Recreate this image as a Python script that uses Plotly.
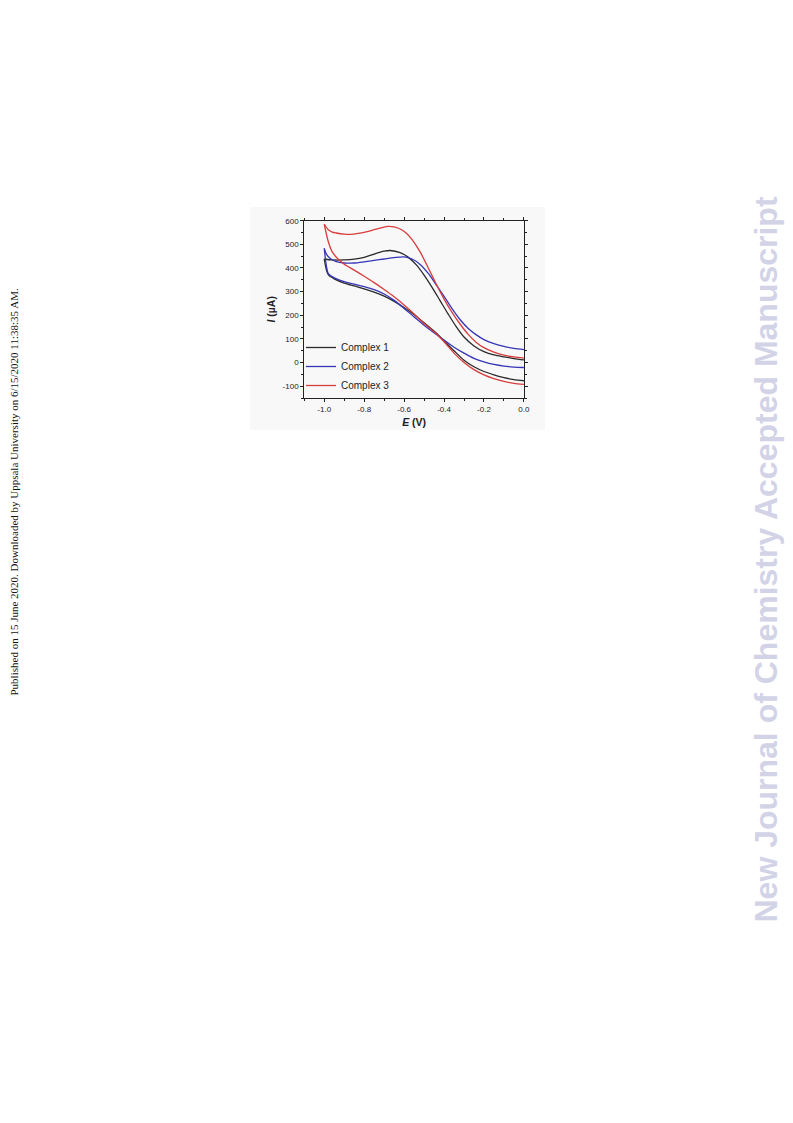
import plotly.graph_objects as go

# ---------------- data ----------------
E1_fwd = [-1.0, -0.96, -0.9, -0.85, -0.8, -0.75, -0.7, -0.67, -0.62, -0.58, -0.54, -0.5,
          -0.46, -0.42, -0.38, -0.34, -0.3, -0.25, -0.2, -0.15, -0.1, -0.05, 0.0]
I1_fwd = [438, 434, 434, 437, 445, 459, 471, 474, 465, 446, 414, 370,
          318, 262, 206, 153, 108, 70, 46, 32, 24, 17, 11]
E1_rev = [0.0, -0.05, -0.1, -0.15, -0.2, -0.25, -0.3, -0.35, -0.4, -0.45, -0.5, -0.55,
          -0.6, -0.65, -0.7, -0.75, -0.8, -0.85, -0.9, -0.95, -0.98, -0.99, -0.995, -1.0]
I1_rev = [-77, -72, -64, -52, -38, -18, 10, 50, 92, 133, 168, 202,
          233, 259, 281, 298, 312, 324, 336, 354, 372, 394, 414, 438]

E2_fwd = [-1.0, -0.99, -0.97, -0.94, -0.9, -0.85, -0.8, -0.75, -0.7, -0.65, -0.6, -0.56,
          -0.52, -0.48, -0.44, -0.4, -0.36, -0.32, -0.28, -0.24, -0.2, -0.15, -0.1, -0.05, 0.0]
I2_fwd = [483, 460, 440, 427, 421, 421, 426, 432, 438, 444, 447, 438,
          415, 378, 330, 280, 228, 182, 145, 118, 97, 80, 68, 60, 55]
E2_rev = [0.0, -0.05, -0.1, -0.15, -0.2, -0.25, -0.3, -0.35, -0.4, -0.45, -0.5, -0.55,
          -0.6, -0.65, -0.7, -0.75, -0.8, -0.85, -0.9, -0.95, -0.98, -0.99, -1.0]
I2_rev = [-21, -19, -15, -8, 3, 18, 40, 65, 95, 126, 158, 193,
          229, 263, 290, 308, 321, 332, 342, 358, 377, 412, 483]

E3_fwd = [-1.0, -0.98, -0.96, -0.94, -0.9, -0.87, -0.83, -0.79, -0.75, -0.71, -0.68, -0.65,
          -0.62, -0.59, -0.56, -0.52, -0.48, -0.44, -0.4, -0.36, -0.32, -0.28, -0.24,
          -0.2, -0.15, -0.1, -0.05, 0.0]
I3_fwd = [585, 562, 552, 548, 543, 542, 546, 553, 562, 571, 576, 574,
          565, 548, 520, 468, 402, 333, 268, 212, 163, 120, 86,
          63, 44, 31, 24, 19]
E3_rev = [0.0, -0.05, -0.1, -0.15, -0.2, -0.25, -0.3, -0.35, -0.4, -0.45, -0.5, -0.55,
          -0.6, -0.65, -0.7, -0.75, -0.8, -0.85, -0.9, -0.93, -0.96, -0.98, -1.0]
I3_rev = [-92, -88, -80, -68, -52, -30, 0, 40, 88, 130, 165, 205,
          243, 278, 309, 338, 365, 391, 416, 437, 468, 512, 585]

names = ["Complex 1", "Complex 2", "Complex 3"]
colors = ["#2a2a2a", "#3535b8", "#d83c3c"]

x_ticks = [-1.0, -0.8, -0.6, -0.4, -0.2, 0.0]
y_ticks = [-100, 0, 100, 200, 300, 400, 500, 600]

# ---------------- figure ----------------
fig = go.Figure()
series = [(E1_fwd, I1_fwd, E1_rev, I1_rev),
          (E2_fwd, I2_fwd, E2_rev, I2_rev),
          (E3_fwd, I3_fwd, E3_rev, I3_rev)]
for k, (ef, i_f, er, i_r) in enumerate(series):
    fig.add_trace(go.Scatter(x=ef, y=i_f, mode="lines", name=names[k], legendgroup=names[k],
                             line=dict(color=colors[k], width=1.3, shape="spline", smoothing=0.8),
                             showlegend=True))
    fig.add_trace(go.Scatter(x=er, y=i_r, mode="lines", name=names[k], legendgroup=names[k],
                             line=dict(color=colors[k], width=1.3, shape="spline", smoothing=0.8),
                             showlegend=False))

W, H = 793, 1123
x0, x1 = 304.3, 524.0
yt, yb = 220.7, 398.0

axis_common = dict(
    showline=True, linecolor="#222", linewidth=1.2, mirror="allticks",
    ticks="outside", ticklen=3, tickwidth=1, tickcolor="#222",
    showgrid=False, zeroline=False,
    tickfont=dict(family="Liberation Sans, Arial", size=8, color="#222"),
)

fig.update_layout(
    width=W, height=H,
    margin=dict(l=0, r=0, t=0, b=0),
    paper_bgcolor="white", plot_bgcolor="rgba(0,0,0,0)",
    showlegend=True,
    legend=dict(x=301 / W, y=1 - 333 / H, xanchor="left", yanchor="top",
                bgcolor="rgba(0,0,0,0)", borderwidth=0,
                font=dict(family="Liberation Sans, Arial", size=10, color="#222"),
                itemwidth=30, tracegroupgap=0),
    xaxis=dict(domain=[x0 / W, x1 / W], range=[-1.1, 0.0005],
               tickvals=x_ticks, ticktext=[f"{v:.1f}" for v in x_ticks],
               minor=dict(ticks="outside", ticklen=2, dtick=0.1, tick0=0, tickcolor="#222"),
               title=dict(text="<b><i>E</i> (V)</b>", standoff=5,
                          font=dict(family="Liberation Sans, Arial", size=10.5, color="#222")),
               automargin=False, **axis_common),
    yaxis=dict(domain=[1 - yb / H, 1 - yt / H], range=[-150, 600],
               tickvals=y_ticks, ticktext=[str(v) for v in y_ticks],
               minor=dict(ticks="outside", ticklen=2, dtick=50, tick0=0, tickcolor="#222"),
               title=dict(text="<b><i>I</i> (µA)</b>", standoff=4,
                          font=dict(family="Liberation Sans, Arial", size=10.5, color="#222")),
               automargin=False, **axis_common),
    shapes=[dict(type="rect", xref="paper", yref="paper",
                 x0=250 / W, x1=545 / W, y0=1 - 430 / H, y1=1 - 207 / H,
                 fillcolor="#f8f8f8", line=dict(width=0), layer="below")],
    annotations=[
        dict(text="Published on 15 June 2020. Downloaded by Uppsala University on 6/15/2020 11:38:35 AM.",
             xref="paper", yref="paper", x=13 / W, y=1 - 492.5 / H, textangle=-90,
             showarrow=False, xanchor="center", yanchor="middle",
             font=dict(family="Liberation Serif, Times New Roman", size=11, color="#111")),
        dict(text="<b>New Journal of Chemistry Accepted Manuscript</b>",
             xref="paper", yref="paper", x=765 / W, y=1 - 559.5 / H, textangle=-90,
             showarrow=False, xanchor="center", yanchor="middle",
             font=dict(family="Liberation Sans, Arial", size=32, color="#d3d3e8")),
    ],
)

fig.write_html("out.html", config={"displayModeBar": False},
               post_script="document.body.style.margin='0';")
